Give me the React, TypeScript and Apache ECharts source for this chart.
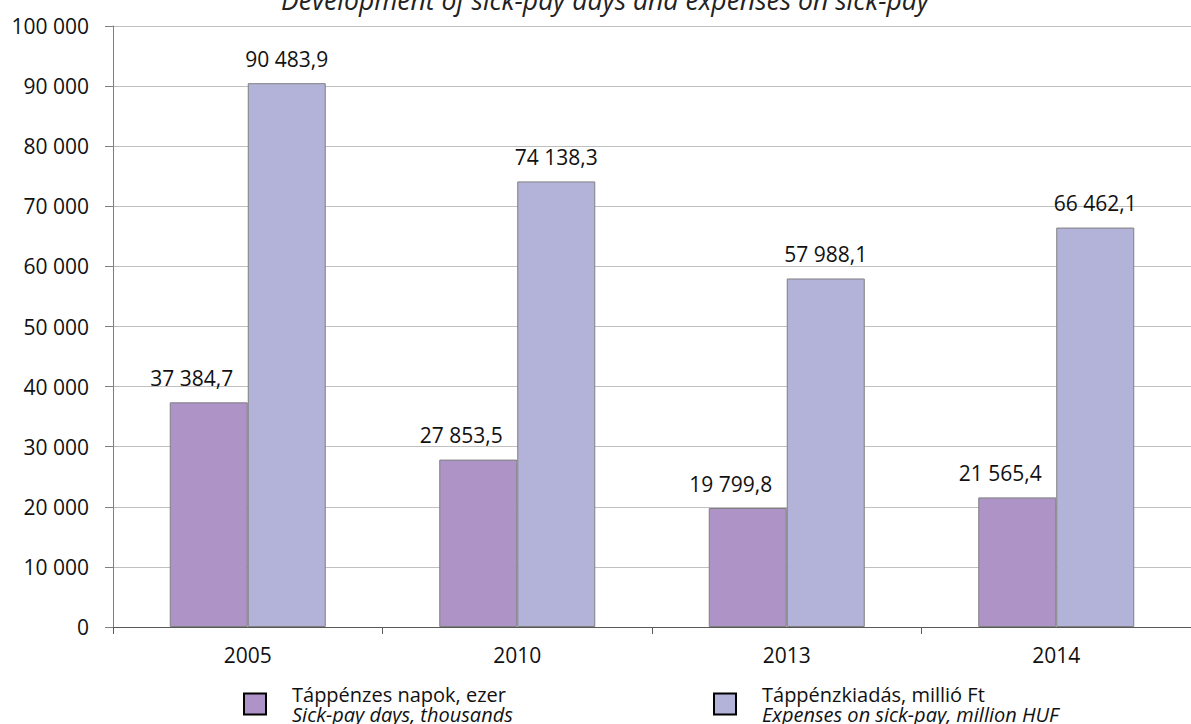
import React, { useEffect, useRef } from "react";
import * as echarts from "echarts";

const years = ["2005", "2010", "2013", "2014"];
const sickDays = [37384.7, 27853.5, 19799.8, 21565.4];
const expenses = [90483.9, 74138.3, 57988.1, 66462.1];
const sickDaysName = "Táppénzes napok, ezer";
const sickDaysNameEn = "Sick-pay days, thousands";
const expensesName = "Táppénzkiadás, millió Ft";
const expensesNameEn = "Expenses on sick-pay, million HUF";
const titleText = "Development of sick-pay days and expenses on sick-pay";

const FONT = "'Open Sans', 'Noto Sans', sans-serif";

function fmtInt(v: number): string {
  const s = Math.round(v).toString();
  return s.replace(/\B(?=(\d{3})+(?!\d))/g, " ");
}
function fmtDec(v: number): string {
  const [i, d] = v.toFixed(1).split(".");
  return i.replace(/\B(?=(\d{3})+(?!\d))/g, " ") + "," + d;
}

export default function App() {
  const ref = useRef<HTMLDivElement>(null);
  useEffect(() => {
    if (!ref.current) return;
    const chart = echarts.init(ref.current, null, { renderer: "svg" });
    const legendText = (a: string, b: string) => `{a|${a}}\n{b|${b}}`;
    const legendRich = {
      a: { fontFamily: FONT, fontSize: 20, color: "#111", lineHeight: 20 },
      b: { fontFamily: FONT, fontSize: 20, color: "#111", lineHeight: 20, fontStyle: "italic" },
    };
    const legendBase = {
      top: 679,
      itemWidth: 22,
      itemHeight: 21,
      itemGap: 0,
      icon: "rect",
      selectedMode: false,
      itemStyle: { borderColor: "#000", borderWidth: 2 },
    };
    chart.setOption({
      animation: false,
      backgroundColor: "#ffffff",
      textStyle: { fontFamily: FONT },
      graphic: [
        {
          type: "text",
          x: 605,
          y: 0,
          style: {
            text: titleText,
            fontFamily: FONT,
            fontSize: 26.5,
            fontStyle: "italic",
            fill: "#222",
            textAlign: "center",
            textVerticalAlign: "middle",
            verticalAlign: "middle",
          },
        },
      ],
      legend: [
        {
          ...legendBase,
          data: [sickDaysName],
          left: 238,
          formatter: () => legendText(sickDaysName, sickDaysNameEn),
          textStyle: { rich: legendRich, padding: [0, 0, 0, 21] },
        },
        {
          ...legendBase,
          data: [expensesName],
          left: 708,
          formatter: () => legendText(expensesName, expensesNameEn),
          textStyle: { rich: legendRich, padding: [0, 0, 0, 21] },
        },
      ],
      grid: { left: 113, top: 26, right: -7, bottom: 97, containLabel: false },
      xAxis: {
        type: "category",
        data: years,
        boundaryGap: true,
        axisLine: { show: true, lineStyle: { color: "#595959", width: 1 } },
        axisTick: { show: true, length: 7, alignWithLabel: false, lineStyle: { color: "#595959" } },
        axisLabel: { fontFamily: FONT, fontSize: 21, color: "#111", margin: 17 },
        splitLine: { show: false },
      },
      yAxis: {
        type: "value",
        min: 0,
        max: 100000,
        interval: 10000,
        axisLine: { show: true, lineStyle: { color: "#808080", width: 1 } },
        axisTick: { show: true, length: 8, lineStyle: { color: "#808080" } },
        axisLabel: {
          fontFamily: FONT,
          fontSize: 21,
          color: "#111",
          margin: 24,
          formatter: (v: number) => fmtInt(v),
        },
        splitLine: { show: true, lineStyle: { color: "#c0c0c0", width: 1 } },
      },
      series: [
        {
          name: sickDaysName,
          type: "bar",
          data: sickDays,
          barWidth: 78,
          barGap: "0%",
          itemStyle: { color: "#ad93c6", borderColor: "#7f7f7f", borderWidth: 1 },
          label: {
            show: true,
            position: "top",
            distance: 14,
            offset: [-17, 0],
            fontFamily: FONT,
            fontSize: 21,
            color: "#111",
            formatter: (p: any) => fmtDec(p.value),
          },
        },
        {
          name: expensesName,
          type: "bar",
          data: expenses,
          barWidth: 78,
          barGap: "0%",
          itemStyle: { color: "#b3b3da", borderColor: "#7f7f7f", borderWidth: 1 },
          label: {
            show: true,
            position: "top",
            distance: 14,
            fontFamily: FONT,
            fontSize: 21,
            color: "#111",
            formatter: (p: any) => fmtDec(p.value),
          },
        },
      ],
    });
    return () => chart.dispose();
  }, []);
  return (
    <div
      ref={ref}
      style={{ position: "absolute", left: 0, top: 0, width: 1191, height: 724, overflow: "hidden" }}
    />
  );
}
